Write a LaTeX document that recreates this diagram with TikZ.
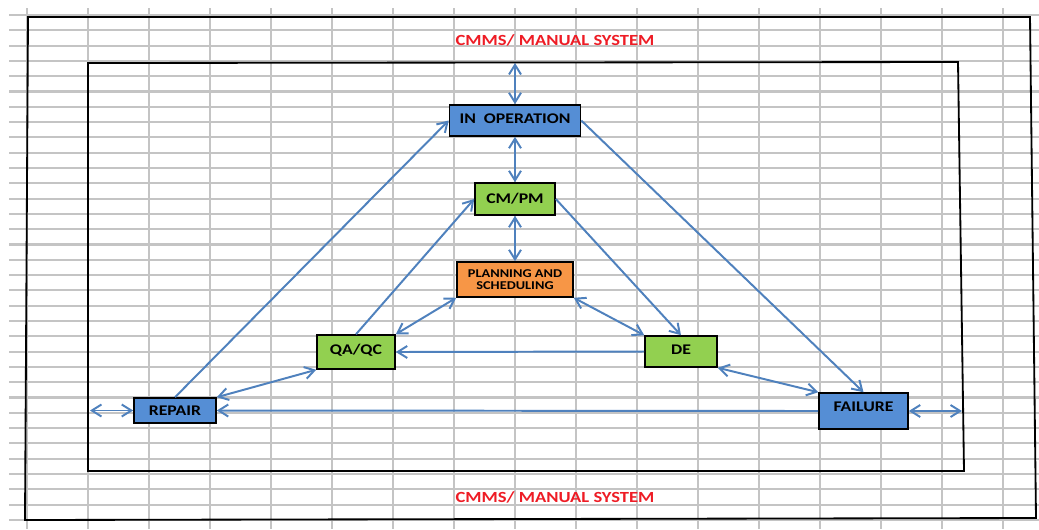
\documentclass[tikz,border=0pt]{standalone}
\usepackage{fontspec}
\setmainfont{Carlito}[FakeStretch=1.2]
\usepackage{tikz}
\usetikzlibrary{arrows.meta,positioning,calc}
\tikzset{every node/.append style={align=center}}
\definecolor{gridgray}{HTML}{C4C4C4}
\definecolor{boxblue}{HTML}{558ED5}
\definecolor{boxgreen}{HTML}{92D050}
\definecolor{boxorange}{HTML}{F79646}
\definecolor{linkblue}{HTML}{4F81BD}
\definecolor{titlered}{HTML}{EE1C25}

\begin{document}
\begin{tikzpicture}[x=0.025cm,y=-0.025cm, every node/.style={font=\bfseries\fontsize{10.5}{12}\selectfont,align=center},
  >={Straight Barb[length=2.4mm,width=3mm]},
  stage/.style={draw=black,line width=1.1pt,inner sep=0pt},
  link/.style={->,draw=linkblue,line width=1.4pt},
  dlink/.style={<->,draw=linkblue,line width=1.4pt},
  title/.style={text=titlered,font=\bfseries\fontsize{11}{13}\selectfont}]
  \useasboundingbox (0,0) rectangle (1039,529);
  % sheet grid
  \foreach \y in {15,30.3,...,522}
    \draw[gridgray, line width=1.5pt] (9,\y) -- (1039,\y);
  \foreach \x in {27,88,...,1003}
    \draw[gridgray, line width=1.3pt] (\x,8) -- (\x,529);
  % frames
  \draw[line width=1.3pt] (28,17) -- (1030,17) -- (1036,518) -- (25,520) -- cycle;
  \draw[line width=1.3pt] (88,63) -- (958,62) -- (964,471) -- (88,471) -- cycle;
  \node[title] (systop) at (555,40) {CMMS/ MANUAL SYSTEM};
  \node[title] (sysbot) at (555,497) {CMMS/ MANUAL SYSTEM};

  \node[stage, fill=boxblue, minimum width=3.275cm, minimum height=0.775cm] (inop) at (515,120.5) {\raisebox{1.5pt}[\height][\depth]{IN\ \ OPERATION}};
  \node[stage, fill=boxgreen, minimum width=2cm, minimum height=0.8cm] (cmpm) at (515,199) {CM/PM};
  \node[stage, fill=boxorange, minimum width=2.9cm, minimum height=0.875cm, font=\bfseries\fontsize{8.5}{8.7}\selectfont] (plan) at (515,279.5) {PLANNING AND\\SCHEDULING};
  \node[stage, fill=boxgreen, minimum width=1.95cm, minimum height=0.85cm] (qaqc) at (356,352) {\raisebox{1.5pt}[\height][\depth]{QA/QC}};
  \node[stage, fill=boxgreen, minimum width=1.8cm, minimum height=0.775cm] (de) at (681,351.5) {\raisebox{1.5pt}[\height][\depth]{DE}};
  \node[stage, fill=boxblue, minimum width=2.05cm, minimum height=0.625cm] (repair) at (175,410.5) {REPAIR};
  \node[stage, fill=boxblue, minimum width=2.225cm, minimum height=0.9cm] (failure) at (863.5,411) {\raisebox{3pt}[\height][\depth]{FAILURE}};

  \coordinate (topin) at (515,63);
  \coordinate (leftend) at (90,410.5);
  \coordinate (rightend) at (962,411);

  \draw[dlink] (topin) -- (inop.north);
  \draw[dlink] (inop.south) -- (cmpm.north);
  \draw[dlink] (cmpm.south) -- (plan.north);
  \draw[link] (repair.north) -- (inop.west);
  \draw[link] (inop.east) -- (failure.north);
  \draw[link] (qaqc.north) -- (cmpm.west);
  \draw[link] (cmpm.east) -- (de.north);
  \draw[dlink] (plan.south west) -- (qaqc.north east);
  \draw[dlink] (plan.south east) -- (de.north west);
  \draw[link] (de.west) -- (qaqc.east);
  \draw[dlink] (repair.north east) -- (qaqc.south west);
  \draw[dlink] (de.south east) -- (failure.north west);
  \draw[link] (failure.west) -- (repair.east);
  \draw[dlink] (leftend) -- (repair.west);
  \draw[dlink] (failure.east) -- (rightend);
\end{tikzpicture}
\end{document}
